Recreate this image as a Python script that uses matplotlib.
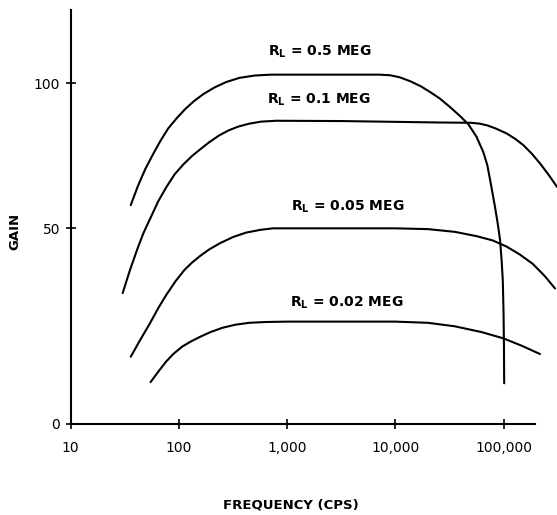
import numpy as np
import matplotlib.pyplot as plt

# Gain vs frequency, one curve per load resistor.
logf_05 = [1.555, 1.62, 1.69, 1.76, 1.83, 1.90, 1.98, 2.06, 2.14, 2.23, 2.33, 2.44, 2.56,
           2.70, 2.85, 3.85, 3.95, 4.04, 4.14, 4.24, 4.33, 4.41, 4.50, 4.59, 4.675, 4.75,
           4.813, 4.85, 4.875, 4.90, 4.921, 4.945, 4.968, 4.983, 4.993, 5.0, 5.004, 5.006]
gain_05 = [58.0, 64.5, 70.5, 75.5, 80.2, 84.4, 88.0, 91.2, 93.9, 96.4, 98.6, 100.5, 101.9,
           102.7, 103.0, 103.0, 102.8, 102.1, 100.7, 98.9, 96.8, 94.8, 92.0, 89.0, 85.9, 81.6,
           76.3, 71.8, 66.9, 61.8, 57.4, 52.0, 47.0, 41.5, 36.8, 28.5, 19.7, 10.3]

logf_01 = [1.48, 1.55, 1.62, 1.671, 1.74, 1.81, 1.887, 1.96, 2.04, 2.12, 2.195, 2.28, 2.37,
           2.46, 2.55, 2.65, 2.76, 2.90, 3.50, 4.41, 4.70, 4.78, 4.85, 4.93, 5.03, 5.11,
           5.183, 5.26, 5.337, 5.42, 5.494]
gain_01 = [33.4, 39.5, 45.0, 48.7, 53.8, 59.4, 64.4, 68.6, 72.0, 74.9, 77.2, 79.7, 82.0,
           83.8, 85.1, 86.1, 86.8, 87.1, 87.0, 86.5, 86.4, 86.1, 85.5, 84.4, 82.7, 80.8,
           78.7, 75.8, 72.4, 68.3, 64.3]

logf_005 = [1.555, 1.64, 1.733, 1.81, 1.887, 1.97, 2.05, 2.12, 2.195, 2.28, 2.38, 2.503,
            2.62, 2.75, 2.87, 4.00, 4.30, 4.55, 4.75, 4.90, 5.03, 5.15, 5.27, 5.38, 5.476]
gain_005 = [17.1, 21.3, 25.7, 29.6, 33.1, 36.5, 39.3, 41.2, 42.9, 44.6, 46.2, 47.8,
            48.9, 49.6, 50.0, 50.0, 49.8, 49.1, 48.0, 46.9, 45.3, 43.3, 40.9, 37.8, 34.6]

logf_002 = [1.738, 1.81, 1.88, 1.948, 2.03, 2.11, 2.195, 2.29, 2.40, 2.52, 2.65, 2.80,
            3.00, 4.00, 4.30, 4.55, 4.80, 5.00, 5.17, 5.337]
gain_002 = [10.6, 13.3, 15.8, 17.8, 19.7, 21.0, 22.2, 23.4, 24.5, 25.3, 25.8, 26.0,
            26.1, 26.1, 25.8, 24.9, 23.4, 21.8, 19.9, 17.8]

curve_labels = ["0.5", "0.1", "0.05", "0.02"]
label_freq = [1990, 1980, 3660, 3590]
label_gain = [110.8, 94.2, 57.5, 31.0]

x_ticks = [10, 100, 1000, 10000, 100000]
x_tick_labels = ["10", "100", "1,000", "10,000", "100,000"]
y_ticks = [0, 50, 100]

# the printed gain axis is not evenly spaced: 0-50 takes more room than 50-100
gain_pts = [0, 50, 100, 200]
pos_pts = [0, 195.2, 340.2, 630.2]


def fwd(y):
    return np.interp(y, gain_pts, pos_pts)


def inv(p):
    return np.interp(p, pos_pts, gain_pts)


fig = plt.figure(figsize=(5.57, 5.15), dpi=100)
ax = fig.add_axes([70.7 / 557, 1 - 423.5 / 515, 1 - 70.7 / 557, (423.5 - 10) / 515])

for lf, g in [(logf_05, gain_05), (logf_01, gain_01), (logf_005, gain_005), (logf_002, gain_002)]:
    ax.plot(10 ** np.array(lf), g, color="black", lw=1.5, solid_capstyle="round",
            solid_joinstyle="round")

ax.set_xscale("log")
ax.set_yscale("function", functions=(fwd, inv))
ax.set_xlim(10, 312000)
ax.set_ylim(0, 125.3)

ax.spines["top"].set_visible(False)
ax.spines["right"].set_visible(False)
ax.spines["bottom"].set_bounds(10, 195000)
for s in ["left", "bottom"]:
    ax.spines[s].set_linewidth(1.5)

ax.set_xticks(x_ticks)
ax.set_xticklabels(x_tick_labels)
ax.xaxis.set_minor_locator(plt.NullLocator())
ax.set_yticks(y_ticks)
ax.set_yticklabels([str(v) for v in y_ticks])
ax.yaxis.set_minor_locator(plt.NullLocator())
ax.tick_params(axis="both", direction="inout", length=7, width=1.2, labelsize=10)
ax.tick_params(axis="x", pad=9)
ax.tick_params(axis="y", pad=4)

for lab, lf, lg in zip(curve_labels, label_freq, label_gain):
    ax.text(lf, lg, "R$_\\mathregular{L}$ = " + lab + " MEG", ha="center", va="center",
            fontsize=10, fontweight="bold")

fig.text(291 / 557, 1 - 505 / 515, "FREQUENCY (CPS)", ha="center", va="center",
         fontsize=9.5, fontweight="bold")
fig.text(15 / 557, 1 - 231 / 515, "GAIN", ha="center", va="center", rotation=90,
         fontsize=9.5, fontweight="bold")

fig.savefig("out.png", dpi=100, facecolor="white")
